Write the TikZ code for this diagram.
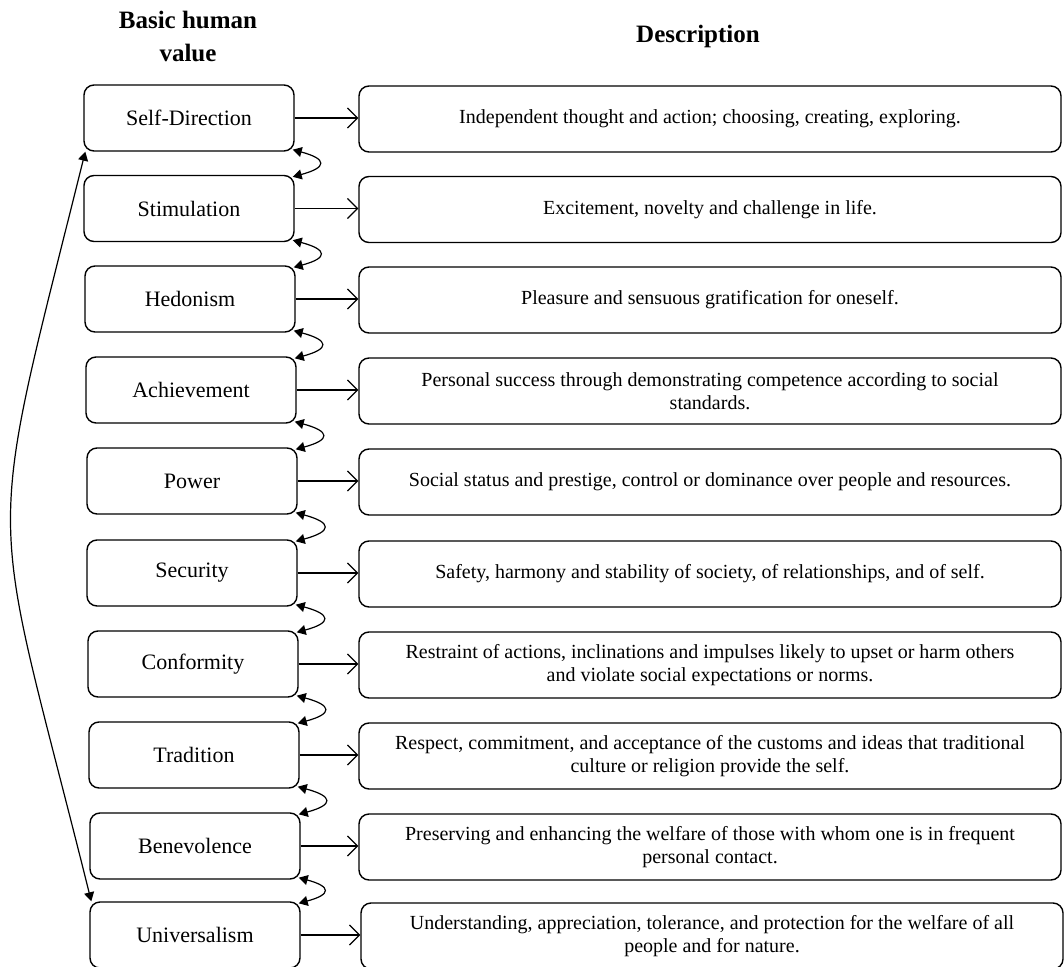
\documentclass[tikz,border=0pt]{standalone}
\usepackage{fontspec}
\setmainfont{Liberation Serif}
\usetikzlibrary{arrows.meta}

\tikzset{
  valuebox/.style={draw, rounded corners=5pt, line width=0.7pt, minimum width=105pt, minimum height=33pt, font=\fontsize{11}{13}\selectfont},
  descbox/.style={draw, rounded corners=5pt, line width=0.7pt, minimum width=351pt, minimum height=33pt, align=center, font=\fontsize{10}{11.5}\selectfont},
  header/.style={align=center, font=\bfseries\fontsize{12.5}{16.5}\selectfont},
  link/.style={line width=0.6pt, -{Straight Barb[length=5pt,width=10pt]}},
  swap/.style={line width=0.6pt, {Triangle[length=4.5pt,width=5pt]}-{Triangle[length=4.5pt,width=5pt]}},
}

\begin{document}
\begin{tikzpicture}[x=0.5pt,y=-0.5pt]
  \useasboundingbox (0,0) rectangle (1064,967);

  \node[header] (hval) at (188,36) {Basic human\\value};
  \node[header] (hdesc) at (698,36) {Description};

  % values
  \node[valuebox] (v1) at (189,118) {Self-Direction};
  \node[valuebox] (v2) at (189,208.5) {Stimulation};
  \node[valuebox] (v3) at (190,299) {Hedonism};
  \node[valuebox] (v4) at (191,390) {Achievement};
  \node[valuebox] (v5) at (192,481) {Power};
  \node[valuebox] (v6) at (192,573) {Security};
  \node[valuebox] (v7) at (193,664) {Conformity};
  \node[valuebox] (v8) at (194,755) {Tradition};
  \node[valuebox] (v9) at (195,846) {Benevolence};
  \node[valuebox] (v10) at (195,935) {Universalism};

  % descriptions
  \node[descbox] (d1) at (710,119) {Independent thought and action; choosing, creating, exploring.};
  \node[descbox] (d2) at (710,209.5) {Excitement, novelty and challenge in life.};
  \node[descbox] (d3) at (710,300) {Pleasure and sensuous gratification for oneself.};
  \node[descbox] (d4) at (710,391) {Personal success through demonstrating competence according to social\\standards.};
  \node[descbox] (d5) at (710,482) {Social status and prestige, control or dominance over people and resources.};
  \node[descbox] (d6) at (710,574) {Safety, harmony and stability of society, of relationships, and of self.};
  \node[descbox] (d7) at (710,665) {Restraint of actions, inclinations and impulses likely to upset or harm others\\and violate social expectations or norms.};
  \node[descbox] (d8) at (710,756) {Respect, commitment, and acceptance of the customs and ideas that traditional\\culture or religion provide the self.};
  \node[descbox] (d9) at (710,847) {Preserving and enhancing the welfare of those with whom one is in frequent\\personal contact.};
  \node[descbox] (d10) at (712,936) {Understanding, appreciation, tolerance, and protection for the welfare of all\\people and for nature.};

  \foreach \i in {1,...,10}
    \draw[link] (v\i.east) -- (v\i.east -| d\i.west);

  \foreach \i [count=\j from 2] in {1,...,9}
    \draw[swap] ([shift={(-1pt,1pt)}]v\i.south east) to[out=-15,in=15,looseness=3.4] ([shift={(-1pt,-1pt)}]v\j.north east);

  \draw[swap] ([xshift=1pt]v1.south west) to[out=256,in=104,looseness=1.45] ([xshift=1pt]v10.north west);
\end{tikzpicture}
\end{document}
